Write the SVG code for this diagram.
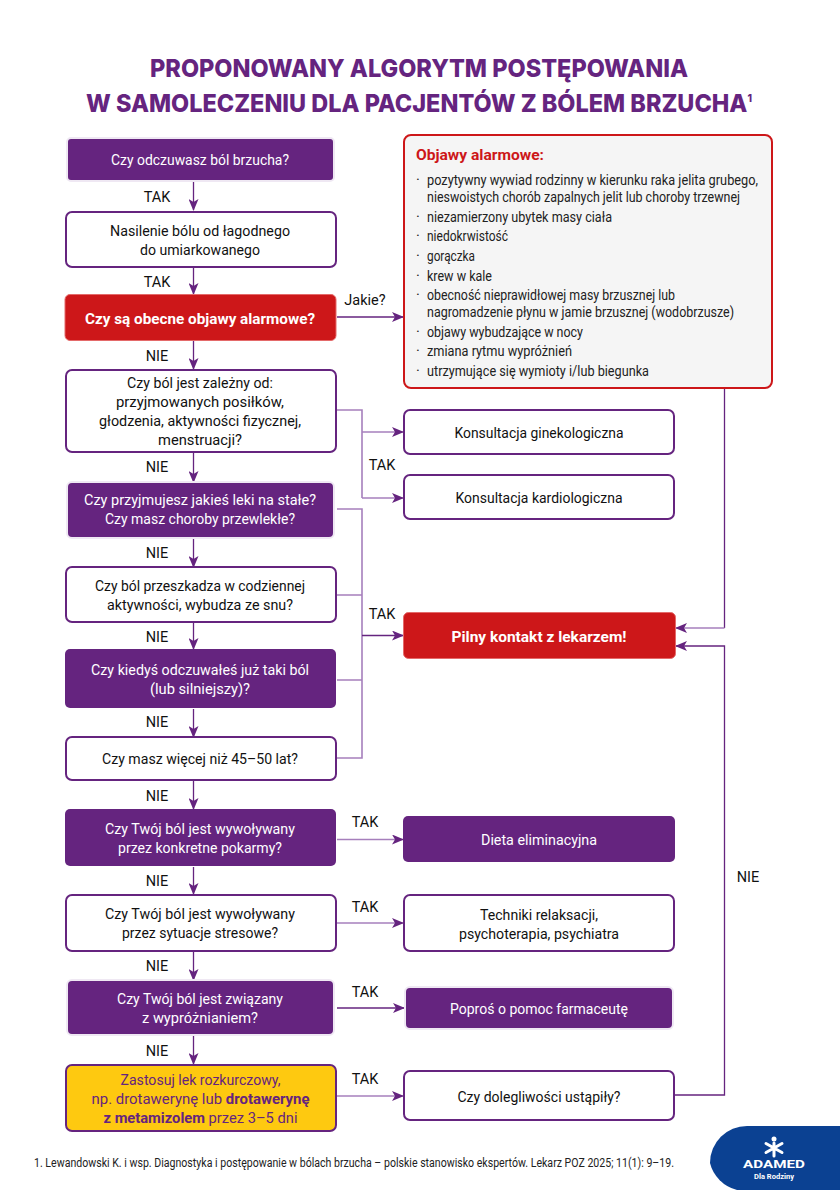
<svg xmlns="http://www.w3.org/2000/svg" width="840" height="1190" viewBox="0 0 840 1190">
<style>
text{font-family:"Roboto","Liberation Sans",sans-serif;font-size:15.500px;fill:#111;text-anchor:middle}
#edge-labels text{font-size:14.500px}
.w{fill:#fff}.b{font-weight:700}.l{text-anchor:start;font-size:14.500px;fill:#222}
.t{font-family:"Inter","Liberation Sans",sans-serif;font-size:25px;font-weight:800;fill:#65247f}
.bp{fill:#65247f;stroke:#efe8f3;stroke-width:2}.bw{fill:#fff;stroke:#65247f;stroke-width:2}
.br{fill:#cd1719;stroke:#e46a6a;stroke-width:1}
.c{fill:none;stroke:#65247f;stroke-width:1.3}.d{fill:none;stroke:#a67fbc;stroke-width:1.6}
.p{fill:#65247f}
</style>
<defs>
<marker id="a" markerWidth="12" markerHeight="10" refX="11" refY="5" orient="auto" markerUnits="userSpaceOnUse"><path class="p" d="M0 0L12 5L0 10L3 5Z"/></marker>
</defs>
<g id="title">
<text class="t" x="419" y="77" textLength="538" lengthAdjust="spacingAndGlyphs">PROPONOWANY ALGORYTM POSTĘPOWANIA</text>
<text class="t" x="419" y="112" textLength="666" lengthAdjust="spacingAndGlyphs">W SAMOLECZENIU DLA PACJENTÓW Z BÓLEM BRZUCHA<tspan dy="-10" style="font-size:11px">1</tspan></text>
</g>
<g id="connectors">
<path class="c" marker-end="url(#a)" d="M193.500 182V210"/>
<path class="c" marker-end="url(#a)" d="M193.500 268V294"/>
<path class="c" marker-end="url(#a)" d="M193.500 341V369"/>
<path class="c" marker-end="url(#a)" d="M193.500 453V482"/>
<path class="c" marker-end="url(#a)" d="M193.500 539V567"/>
<path class="c" marker-end="url(#a)" d="M193.500 623V649"/>
<path class="c" marker-end="url(#a)" d="M193.500 709V737"/>
<path class="c" marker-end="url(#a)" d="M193.500 781V809"/>
<path class="c" marker-end="url(#a)" d="M193.500 867V894"/>
<path class="c" marker-end="url(#a)" d="M193.500 952V980"/>
<path class="c" marker-end="url(#a)" d="M193.500 1036V1064"/>
<path class="c" marker-end="url(#a)" d="M337 317H403"/>
<path class="d" d="M337 410H362V498"/>
<path class="d" marker-end="url(#a)" d="M362 432H403"/>
<path class="d" marker-end="url(#a)" d="M362 498H403"/>
<path class="d" d="M337 509H362V758H337M337 595H362M337 680H362"/>
<path class="c" marker-end="url(#a)" d="M362 635.500H403"/>
<path class="d" marker-end="url(#a)" d="M337 839.500H403"/>
<path class="d" marker-end="url(#a)" d="M337 923H403"/>
<path class="c" marker-end="url(#a)" d="M337 1008H404"/>
<path class="d" marker-end="url(#a)" d="M337 1096H403"/>
<path class="c" d="M724.500 389V628"/>
<path class="d" marker-end="url(#a)" d="M724.500 628H676"/>
<path class="c" marker-end="url(#a)" d="M675 1095H724.500V646H676"/>
</g>
<g id="edge-labels">
<text x="157" y="202">TAK</text><text x="157" y="287">TAK</text><text x="157" y="361">NIE</text><text x="157" y="472">NIE</text><text x="157" y="558">NIE</text><text x="157" y="642">NIE</text><text x="157" y="727">NIE</text><text x="157" y="801">NIE</text><text x="157" y="886">NIE</text><text x="157" y="971">NIE</text><text x="157" y="1056">NIE</text>
<text x="365" y="305">Jakie?</text><text x="382" y="470">TAK</text><text x="382" y="619">TAK</text><text x="365" y="827">TAK</text><text x="365" y="912">TAK</text><text x="365" y="997">TAK</text><text x="365" y="1084">TAK</text><text x="748" y="882">NIE</text>
</g>
<g id="n1"><rect class="bp" x="67" y="138" width="267" height="43" rx="4"/><text class="w" x="200" y="165" textLength="178" lengthAdjust="spacingAndGlyphs">Czy odczuwasz ból brzucha?</text></g>
<g id="n2"><rect class="bw" x="66" y="212" width="270" height="55" rx="6"/><text x="200" y="236" textLength="180" lengthAdjust="spacingAndGlyphs">Nasilenie bólu od łagodnego</text><text x="200" y="255" textLength="120" lengthAdjust="spacingAndGlyphs">do umiarkowanego</text></g>
<g id="n3"><rect class="br" x="65" y="294.500" width="271" height="46" rx="5"/><text class="w b" x="200" y="324" textLength="230" lengthAdjust="spacingAndGlyphs">Czy są obecne objawy alarmowe?</text></g>
<g id="n4"><rect class="bw" x="66" y="370" width="270" height="82" rx="6"/><text x="200" y="388" textLength="146" lengthAdjust="spacingAndGlyphs">Czy ból jest zależny od:</text><text x="200" y="407" textLength="168" lengthAdjust="spacingAndGlyphs">przyjmowanych posiłków,</text><text x="200" y="426" textLength="202" lengthAdjust="spacingAndGlyphs">głodzenia, aktywności fizycznej,</text><text x="200" y="445" textLength="84" lengthAdjust="spacingAndGlyphs">menstruacji?</text></g>
<g id="n5"><rect class="bp" x="67" y="482" width="267" height="56" rx="5"/><text class="w" x="200" y="505" textLength="232" lengthAdjust="spacingAndGlyphs">Czy przyjmujesz jakieś leki na stałe?</text><text class="w" x="200" y="524" textLength="190" lengthAdjust="spacingAndGlyphs">Czy masz choroby przewlekłe?</text></g>
<g id="n6"><rect class="bw" x="66" y="567" width="270" height="55" rx="6"/><text x="200" y="591" textLength="210" lengthAdjust="spacingAndGlyphs">Czy ból przeszkadza w codziennej</text><text x="200" y="610" textLength="186" lengthAdjust="spacingAndGlyphs">aktywności, wybudza ze snu?</text></g>
<g id="n7"><rect class="p" x="65" y="649" width="271" height="59" rx="5"/><text class="w" x="200" y="675" textLength="218" lengthAdjust="spacingAndGlyphs">Czy kiedyś odczuwałeś już taki ból</text><text class="w" x="200" y="694" textLength="100" lengthAdjust="spacingAndGlyphs">(lub silniejszy)?</text></g>
<g id="n8"><rect class="bw" x="66" y="737" width="270" height="43" rx="6"/><text x="200" y="764" textLength="196" lengthAdjust="spacingAndGlyphs">Czy masz więcej niż 45–50 lat?</text></g>
<g id="n9"><rect class="p" x="65" y="809" width="271" height="57" rx="5"/><text class="w" x="200" y="834" textLength="190" lengthAdjust="spacingAndGlyphs">Czy Twój ból jest wywoływany</text><text class="w" x="200" y="853" textLength="164" lengthAdjust="spacingAndGlyphs">przez konkretne pokarmy?</text></g>
<g id="n10"><rect class="bw" x="66" y="895" width="270" height="56" rx="6"/><text x="200" y="919" textLength="190" lengthAdjust="spacingAndGlyphs">Czy Twój ból jest wywoływany</text><text x="200" y="938" textLength="156" lengthAdjust="spacingAndGlyphs">przez sytuacje stresowe?</text></g>
<g id="n11"><rect class="bp" x="67" y="980" width="267" height="55" rx="5"/><text class="w" x="200" y="1004" textLength="166" lengthAdjust="spacingAndGlyphs">Czy Twój ból jest związany</text><text class="w" x="200" y="1023" textLength="116" lengthAdjust="spacingAndGlyphs">z wypróżnianiem?</text></g>
<g id="n12"><rect x="66" y="1065" width="270" height="66" rx="6" style="fill:#fec910;stroke:#65247f;stroke-width:2"/>
<text x="200.500" y="1085" style="fill:#65247f" textLength="160" lengthAdjust="spacingAndGlyphs">Zastosuj lek rozkurczowy,</text>
<text x="200.500" y="1104" style="fill:#65247f" textLength="218" lengthAdjust="spacingAndGlyphs">np. drotawerynę lub <tspan class="b">drotawerynę</tspan></text>
<text x="200.500" y="1123" style="fill:#65247f" textLength="194" lengthAdjust="spacingAndGlyphs"><tspan class="b">z metamizolem</tspan> przez 3–5 dni</text></g>
<g id="alarm"><rect x="404" y="135" width="368" height="253" rx="7" style="fill:#f5f5f5;stroke:#cd1719;stroke-width:2"/>
<text x="416" y="160" style="text-anchor:start;font-weight:700;fill:#cd1719" textLength="128" lengthAdjust="spacingAndGlyphs">Objawy alarmowe:</text>
<text class="l" x="416" y="185">·</text><text class="l" x="427" y="185" textLength="331" lengthAdjust="spacingAndGlyphs">pozytywny wywiad rodzinny w kierunku raka jelita grubego,</text>
<text class="l" x="427" y="202" textLength="313" lengthAdjust="spacingAndGlyphs">nieswoistych chorób zapalnych jelit lub choroby trzewnej</text>
<text class="l" x="416" y="222">·</text><text class="l" x="427" y="222" textLength="185" lengthAdjust="spacingAndGlyphs">niezamierzony ubytek masy ciała</text>
<text class="l" x="416" y="241">·</text><text class="l" x="427" y="241" textLength="81" lengthAdjust="spacingAndGlyphs">niedokrwistość</text>
<text class="l" x="416" y="261">·</text><text class="l" x="427" y="261" textLength="48" lengthAdjust="spacingAndGlyphs">gorączka</text>
<text class="l" x="416" y="281">·</text><text class="l" x="427" y="281" textLength="65" lengthAdjust="spacingAndGlyphs">krew w kale</text>
<text class="l" x="416" y="300">·</text><text class="l" x="427" y="300" textLength="248" lengthAdjust="spacingAndGlyphs">obecność nieprawidłowej masy brzusznej lub</text>
<text class="l" x="427" y="317" textLength="307" lengthAdjust="spacingAndGlyphs">nagromadzenie płynu w jamie brzusznej (wodobrzusze)</text>
<text class="l" x="416" y="337">·</text><text class="l" x="427" y="337" textLength="156" lengthAdjust="spacingAndGlyphs">objawy wybudzające w nocy</text>
<text class="l" x="416" y="356">·</text><text class="l" x="427" y="356" textLength="145" lengthAdjust="spacingAndGlyphs">zmiana rytmu wypróżnień</text>
<text class="l" x="416" y="376">·</text><text class="l" x="427" y="376" textLength="222" lengthAdjust="spacingAndGlyphs">utrzymujące się wymioty i/lub biegunka</text></g>
<g id="r1"><rect class="bw" x="404" y="410" width="270" height="44" rx="6"/><text x="539" y="438" textLength="169" lengthAdjust="spacingAndGlyphs">Konsultacja ginekologiczna</text></g>
<g id="r2"><rect class="bw" x="404" y="475" width="270" height="44" rx="6"/><text x="539" y="503" textLength="167" lengthAdjust="spacingAndGlyphs">Konsultacja kardiologiczna</text></g>
<g id="r3"><rect class="br" x="403.500" y="612.500" width="272" height="46" rx="5"/><text class="w b" x="539" y="642" textLength="175" lengthAdjust="spacingAndGlyphs">Pilny kontakt z lekarzem!</text></g>
<g id="r4"><rect class="p" x="403" y="816" width="272" height="46" rx="5"/><text class="w" x="539" y="845" textLength="116" lengthAdjust="spacingAndGlyphs">Dieta eliminacyjna</text></g>
<g id="r5"><rect class="bw" x="404" y="895" width="270" height="56" rx="6"/><text x="539" y="920" textLength="118" lengthAdjust="spacingAndGlyphs">Techniki relaksacji,</text><text x="539" y="939" textLength="160" lengthAdjust="spacingAndGlyphs">psychoterapia, psychiatra</text></g>
<g id="r6"><rect class="bp" x="405" y="987" width="268" height="42" rx="5"/><text class="w" x="539" y="1014" textLength="178" lengthAdjust="spacingAndGlyphs">Poproś o pomoc farmaceutę</text></g>
<g id="r7"><rect class="bw" x="404" y="1071" width="270" height="49" rx="6"/><text x="539" y="1102" textLength="163" lengthAdjust="spacingAndGlyphs">Czy dolegliwości ustąpiły?</text></g>
<g id="footer"><text transform="translate(34 1167) scale(.8 1)" x="0" y="0" style="text-anchor:start;font-size:13.500px;fill:#222" textLength="800" lengthAdjust="spacingAndGlyphs">1. Lewandowski K. i wsp. Diagnostyka i postępowanie w bólach brzucha – polskie stanowisko ekspertów. Lekarz POZ 2025; 11(1): 9–19.</text></g>
<g id="logo"><path d="M840 1126H747A37 37 0 0 0 710 1163A37 37 0 0 0 737 1190H840Z" style="fill:#0b4192"/>
<g style="stroke:#fff;stroke-width:3;stroke-linecap:round"><path d="M774 1143V1156M766 1143.500L782 1152.500M782 1143.500L766 1152.500"/></g><circle cx="774" cy="1139" r="2.500" style="fill:#fff"/>
<text class="w b" x="774" y="1168" style="font-size:11px" textLength="62" lengthAdjust="spacingAndGlyphs">ADAMED</text>
<text class="w b" x="774" y="1178.500" style="font-size:6.500px" textLength="40" lengthAdjust="spacingAndGlyphs">Dla Rodziny</text></g>
</svg>
